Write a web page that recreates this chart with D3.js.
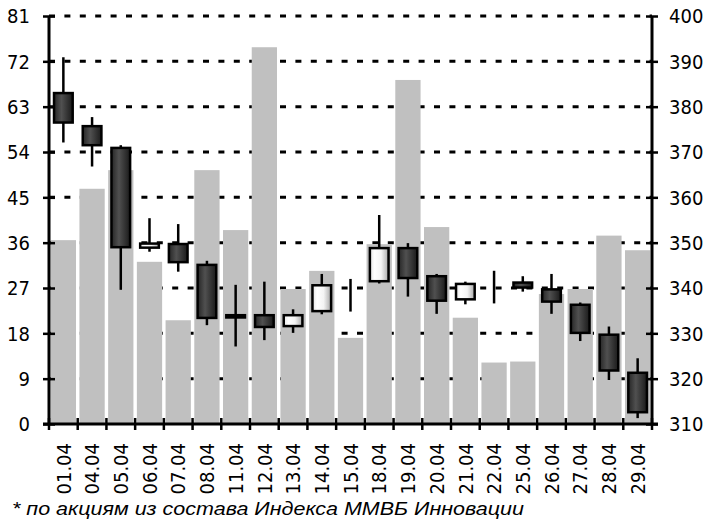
<!DOCTYPE html>
<html>
<head>
<meta charset="utf-8">
<script src="https://cdn.jsdelivr.net/npm/d3@7"></script>
<style>
  body { margin: 0; background: #fff; }
  svg { display: block; }
  .tick text { font-family: "DejaVu Sans Condensed", "DejaVu Sans", sans-serif; font-stretch: condensed; font-size: 20px; fill: #000; }
  .note { font-family: "Liberation Sans", Arial, sans-serif; font-style: italic; font-size: 18.5px; }
</style>
</head>
<body>
<svg width="707" height="522"></svg>
<script>
// dates on the x axis
const dates = ["01.04", "04.04", "05.04", "06.04", "07.04", "08.04", "11.04", "12.04", "13.04", "14.04", "15.04",
  "18.04", "19.04", "20.04", "21.04", "22.04", "25.04", "26.04", "27.04", "28.04", "29.04"];

// gray bars, left axis
const volume = [36.5, 46.7, 50.4, 32.2, 20.6, 50.4, 38.5, 74.8, 26.8, 30.4, 17.1,
  35.7, 68.3, 39.1, 21.1, 12.2, 12.4, 25.8, 26.8, 37.4, 34.5];

// candles, right axis (15.04 and 22.04 have only high/low)
const openP  = [383.0, 375.7, 370.9, 348.9, 349.7, 345.1, 333.5, 334.0, 331.6, 334.9, null,
  341.5, 348.8, 342.6, 337.5, null, 341.2, 339.7, 336.3, 329.7, 321.3];
const highP  = [390.9, 377.7, 371.5, 355.4, 354.1, 346.0, 340.7, 341.4, 335.3, 343.1, 342.0,
  356.1, 349.9, 343.1, 341.4, 343.8, 342.6, 343.1, 336.8, 331.5, 324.5];
const lowP   = [372.1, 366.8, 339.6, 348.0, 343.6, 331.8, 327.1, 328.5, 330.1, 334.2, 334.8,
  341.0, 338.1, 334.3, 336.4, 336.6, 339.2, 334.3, 328.3, 319.7, 311.3];
const closeP = [376.5, 371.5, 349.0, 349.8, 345.7, 333.4, 334.0, 331.4, 334.0, 340.6, null,
  348.8, 342.2, 337.2, 340.9, null, 340.1, 337.0, 330.1, 321.8, 312.6];

const leftTicks = [0, 9, 18, 27, 36, 45, 54, 63, 72, 81];
const rightTicks = [310, 320, 330, 340, 350, 360, 370, 380, 390, 400];
const note = "* по акциям из состава Индекса ММВБ Инновации";

const svg = d3.select("svg");
const pLeft = 49, pRight = 652, pTop = 16, pBottom = 424;

const x = d3.scaleBand().domain(dates).range([pLeft, pRight]).padding(0);
const yL = d3.scaleLinear().domain([0, 81]).range([pBottom, pTop]);
const yR = d3.scaleLinear().domain([310, 400]).range([pBottom, pTop]);

const defs = svg.append("defs");
const dark = defs.append("linearGradient").attr("id", "dark");
dark.append("stop").attr("offset", "0%").attr("stop-color", "#262626");
dark.append("stop").attr("offset", "40%").attr("stop-color", "#505050");
dark.append("stop").attr("offset", "100%").attr("stop-color", "#1a1a1a");
const light = defs.append("linearGradient").attr("id", "light");
light.append("stop").attr("offset", "0%").attr("stop-color", "#e4e4e4");
light.append("stop").attr("offset", "25%").attr("stop-color", "#ffffff");
light.append("stop").attr("offset", "60%").attr("stop-color", "#f4f4f4");
light.append("stop").attr("offset", "100%").attr("stop-color", "#a8a8a8");

const bw = x.bandwidth() * 0.88;
const barX = d => x(d) + (x.bandwidth() - bw) / 2;
const cw = x.bandwidth() * 0.65;
const candleData = dates.map((d, i) => ({ d, o: openP[i], h: highP[i], l: lowP[i], c: closeP[i] }));

// dashed grid, one path per gridline, behind bars and candles
const dashStep = 15.4, dashLen = 6;
function gridPath(v) {
  const gy = yL(v);
  let p = "";
  d3.range(pLeft, pRight, dashStep).forEach(xs => {
    p += `M${xs},${gy}H${Math.min(xs + dashLen, pRight)}`;
  });
  return p;
}
svg.append("g").selectAll("path")
  .data(leftTicks.slice(1))
  .join("path")
    .attr("d", gridPath)
    .attr("fill", "none")
    .attr("stroke", "#000")
    .attr("stroke-width", 3);

// bars
svg.append("g").selectAll("rect")
  .data(dates)
  .join("rect")
    .attr("x", barX)
    .attr("width", bw)
    .attr("y", (d, i) => yL(volume[i]))
    .attr("height", (d, i) => pBottom - yL(volume[i]))
    .attr("fill", "#c0c0c0");

// candles
const candles = svg.append("g").selectAll("g")
  .data(candleData)
  .join("g");

candles.append("line")
  .attr("x1", k => x(k.d) + x.bandwidth() / 2)
  .attr("x2", k => x(k.d) + x.bandwidth() / 2)
  .attr("y1", k => yR(k.h)).attr("y2", k => yR(k.l))
  .attr("stroke", "#000").attr("stroke-width", 2.5);

candles.filter(k => k.o != null).append("rect")
  .attr("x", k => x(k.d) + (x.bandwidth() - cw) / 2)
  .attr("width", cw)
  .attr("y", k => yR(Math.max(k.o, k.c)))
  .attr("height", k => Math.abs(yR(k.o) - yR(k.c)))
  .attr("fill", k => k.c < k.o ? "url(#dark)" : "url(#light)")
  .attr("stroke", "#000").attr("stroke-width", 2.5);

// axes
const axL = svg.append("g").attr("transform", `translate(${pLeft},0)`)
  .call(d3.axisLeft(yL).tickValues(leftTicks).tickSize(6).tickPadding(13));
axL.selectAll(".tick line").attr("x1", 6).attr("stroke-width", 2.5);
axL.selectAll(".tick text").attr("dy", "0.34em");

const axR = svg.append("g").attr("transform", `translate(${pRight},0)`)
  .call(d3.axisRight(yR).tickValues(rightTicks).tickSize(6).tickPadding(11));
axR.selectAll(".tick line").attr("x1", -6).attr("stroke-width", 2.5);
axR.selectAll(".tick text").attr("dy", "0.34em");

const axB = svg.append("g").attr("transform", `translate(0,${pBottom})`)
  .call(d3.axisBottom(x).tickSize(0).tickPadding(0));
axB.selectAll(".tick text")
  .attr("text-anchor", "end")
  .attr("transform", "translate(0,19) rotate(-90)")
  .attr("x", 0).attr("y", 0).attr("dy", "0.36em");

[axL, axR, axB].forEach(a => a.select(".domain").remove());

// band boundary ticks on x axis
svg.append("g").selectAll("line")
  .data(d3.range(dates.length + 1))
  .join("line")
    .attr("x1", i => pLeft + i * x.step()).attr("x2", i => pLeft + i * x.step())
    .attr("y1", pBottom - 6).attr("y2", pBottom + 6)
    .attr("stroke", "#000").attr("stroke-width", 2.5);

// axis lines
svg.append("line").attr("x1", pLeft).attr("x2", pLeft).attr("y1", pTop).attr("y2", pBottom)
  .attr("stroke", "#000").attr("stroke-width", 3);
svg.append("line").attr("x1", pRight).attr("x2", pRight).attr("y1", pTop).attr("y2", pBottom)
  .attr("stroke", "#000").attr("stroke-width", 3);
svg.append("line").attr("x1", pLeft - 6).attr("x2", pRight + 6).attr("y1", pBottom).attr("y2", pBottom)
  .attr("stroke", "#000").attr("stroke-width", 3);

svg.append("text").attr("class", "note")
  .attr("x", 12).attr("y", 515)
  .attr("textLength", 512).attr("lengthAdjust", "spacingAndGlyphs")
  .text(note);
</script>
</body>
</html>
